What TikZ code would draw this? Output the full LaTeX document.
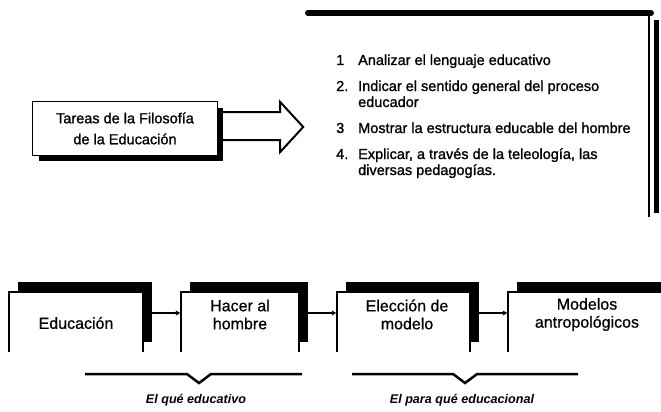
\documentclass[tikz,border=0pt]{standalone}
\usepackage{fontspec}
\setmainfont{Liberation Sans}
\newfontfamily\heavy{Liberation Sans}[FakeBold=1.2]
\newfontfamily\medium{Liberation Sans}[FakeBold=0.7]
\usetikzlibrary{arrows.meta}
\begin{document}
\begin{tikzpicture}[x=1pt,y=-1pt,
  num/.style={anchor=base west, inner sep=0pt, font=\heavy\fontsize{14.5}{16}\selectfont},
  itemtxt/.style={anchor=base west, inner sep=0pt, font=\heavy\fontsize{14.5}{16}\selectfont},
  boxtxt/.style={align=center, inner sep=0pt, font=\heavy\fontsize{14.5}{21}\selectfont},
  btxt/.style={align=center, inner sep=0pt, font=\medium\fontsize{16}{18}\selectfont},
  sbox/.style={minimum width=#1, minimum height=60, inner sep=0pt, draw=none},
  edge/.style={line width=1.5pt, line cap=butt},
  conn/.style={line width=2.2pt, -{Latex[length=5pt,width=5.5pt]}},
  brace/.style={line width=2.5pt, line join=miter},
  lbl/.style={inner sep=0pt, font=\bfseries\itshape\fontsize{12.6}{14}\selectfont},
  blockarrow/.style={line width=2pt, line join=miter}]
\fill[white] (0,0) rectangle (661,412);
\useasboundingbox (0,0) rectangle (661,412);

% --- top-right frame ---
\draw[line width=6pt, line cap=round] (308,13) -- (651,13);
\draw[line width=1.5pt] (649,14) -- (649,217);
\draw[line width=5pt] (656.5,20) -- (656.5,213);

% --- list ---
\node[num] (n1) at (336,65) {1};
\node[itemtxt] (i1) at (358,65) {Analizar el lenguaje educativo};
\node[num] (n2) at (336,91) {2.};
\node[itemtxt] (i2a) at (358,91) {Indicar el sentido general del proceso};
\node[itemtxt] (i2b) at (358,107) {educador};
\node[num] (n3) at (336,133) {3};
\node[itemtxt] (i3) at (358,133) {Mostrar la estructura educable del hombre};
\node[num] (n4) at (336,159) {4.};
\node[itemtxt] (i4a) at (358,159) {Explicar, a través de la teleología, las};
\node[itemtxt] (i4b) at (358,175) {diversas pedagogías.};

% --- left box with block arrow ---
\path node[minimum width=184, minimum height=53, inner sep=0pt] (t0) at (125,128.5) {};
\draw[blockarrow] ([yshift=16.5pt]t0.east) -- ++(63,0) -- ++(0,-10) -- ++(23,25)
  -- ++(-23,25) -- ++(0,-12) -- ([yshift=-11.5pt]t0.east);
\fill ([xshift=6pt,yshift=-6pt]t0.south west) rectangle ([xshift=6pt,yshift=-6pt]t0.north east);
\filldraw[fill=white, line width=1.2pt] (t0.south west) rectangle (t0.north east);
\node[boxtxt] (t0txt) at (t0.center) {Tareas de la Filosofía\\de la Educación};

% --- bottom chain ---
\path node[sbox=134] (b1) at (76,322) {}
      node[sbox=118] (b2) at (240,322) {}
      node[sbox=133] (b3) at (403.5,322) {}
      node[sbox=158] (b4) at (587,322) {};
\foreach \b in {b1,b2,b3,b4}{
  \fill ([xshift=9pt,yshift=10pt]\b.south west) rectangle ([xshift=9pt,yshift=10pt]\b.north east);
  \fill[white] (\b.south west) rectangle (\b.north east);
  \draw[edge] (\b.south west) -- (\b.north west) -- (\b.north east) -- (\b.south east);
}
\node[btxt] (e1) at (76,323) {Educación};
\node[btxt] (e2) at (240,314.5) {Hacer al\\hombre};
\node[btxt] (e3) at (407,314.5) {Elección de\\modelo};
\node[btxt] (e4) at (587,314.5) {Modelos\\antropológicos};
\draw[conn] ([xshift=9pt,yshift=9pt]b1.east) -- ([yshift=9pt]b2.west);
\draw[conn] ([xshift=9pt,yshift=9pt]b2.east) -- ([yshift=9pt]b3.west);
\draw[conn] ([xshift=9pt,yshift=9pt]b3.east) -- ([yshift=9pt]b4.west);

% --- braces and labels ---
\draw[brace] (85,374) -- (187,374) -- (199,383) -- (211,374) -- (302,374);
\draw[brace] (352,374) -- (453,374) -- (465,383) -- (477,374) -- (578,374);
\node[lbl] (l1) at (196,400) {El qué educativo};
\node[lbl] (l2) at (462,400) {El para qué educacional};
\end{tikzpicture}
\end{document}
